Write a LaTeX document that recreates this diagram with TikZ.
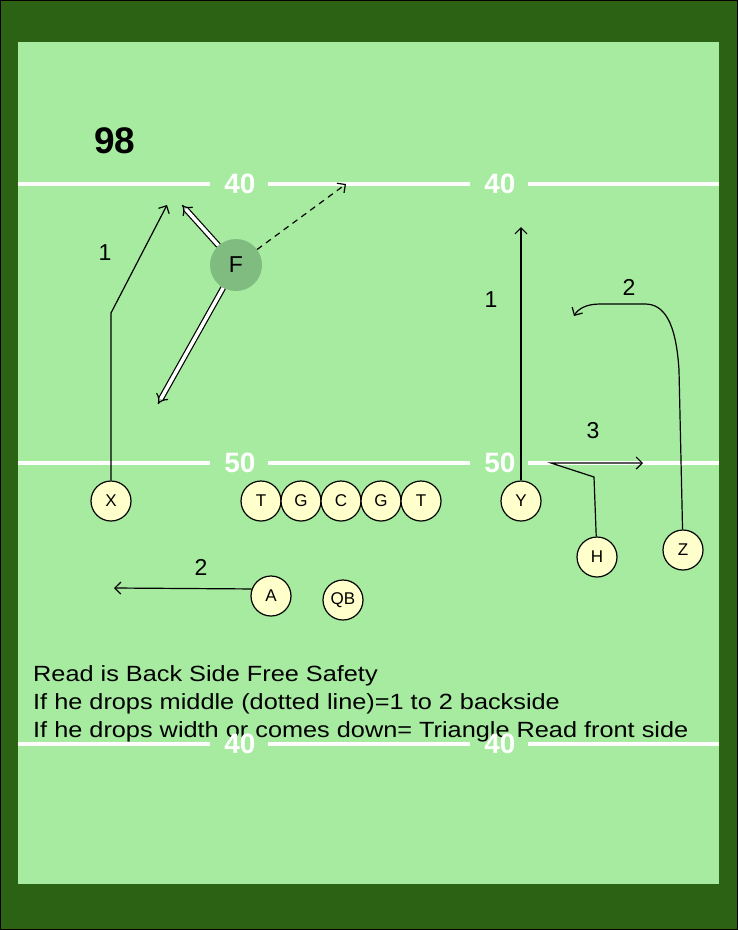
\documentclass[tikz,border=0pt]{standalone}
\usepackage{fontspec}
\setmainfont{Liberation Sans}
\newfontfamily\notefont[FakeStretch=1.15]{Liberation Sans}
\usetikzlibrary{arrows.meta}
\definecolor{turf}{HTML}{2C6214}
\definecolor{field}{HTML}{A6EBA0}
\definecolor{chalk}{HTML}{FFFFCC}
\definecolor{safety}{HTML}{80BB80}
\tikzset{ p/.style = { circle
                       , draw
                       , line width   = 1.2pt
                       , fill         = chalk
                       , inner sep    = 0pt
                       , minimum size = 40pt
                       , font         = \fontsize{17}{17}\selectfont
                       },
          route/.style = { line width = 1.2pt
                         , -{Straight Barb[length=6pt,width=12pt]}
                         },
          read/.style = { double
                        , double distance = 3.5pt
                        , line width      = 1.2pt
                        , -{Implies}
                        },
          num/.style = { font = \fontsize{23}{23}\selectfont },
          yard/.style = { text = white
                        , font = \bfseries\fontsize{28}{28}\selectfont
                        },
          yline/.style = { draw = white, line width = 3.5pt }
        }
\begin{document}
\begin{tikzpicture}[x=1pt,y=-1pt]
    \useasboundingbox (0,0) rectangle (738,930);
    \fill[turf,draw=black,line width=1pt] (0.5,0.5) rectangle (737.5,929.5);
    \fill[field] (18,42) rectangle (719,884);
    % notes
    \node[anchor=base west,align=left,inner sep=0pt,
          font=\notefont\fontsize{22}{28}\selectfont]
        (notes) at (33,737) {Read is Back Side Free Safety\\
        If he drops middle (dotted line)=1 to 2 backside\\
        If he drops width or comes down= Triangle Read front side};
    % yard lines
    \foreach \y/\n in {184/40, 463/50, 744/40} {
        \draw[yline] (18,\y) -- (210,\y) (268,\y) -- (470,\y) (528,\y) -- (719,\y);
        \node[yard] at (240,\y) {\n};
        \node[yard] at (500,\y) {\n};
    }
    \node[font=\bfseries\fontsize{37}{37}\selectfont] (play) at (115,141) {98};
    % offense
    \node[p] (x)  at (111,501) {X};
    \node[p] (t1) at (261,501) {T};
    \node[p] (g1) at (301,501) {G};
    \node[p] (c)  at (341,501) {C};
    \node[p] (g2) at (381,501) {G};
    \node[p] (t2) at (421,501) {T};
    \node[p] (y)  at (521,501) {Y};
    \node[p] (h)  at (597,557) {H};
    \node[p] (z)  at (683,550) {Z};
    \node[p] (a)  at (271,596) {A};
    \node[p] (qb) at (343,600) {QB};
    % free safety
    \node[circle,fill=safety,minimum size=52pt,inner sep=0pt,
          font=\fontsize{23}{23}\selectfont] (f) at (236,265) {F};
    \coordinate (fdeep) at (182,205);
    \coordinate (fdown) at (158,404);
    \coordinate (fmid)  at (346,184);
    \draw[read] (f) -- (fdeep);
    \draw[read] (f) -- (fdown);
    \draw[line width=1.2pt,dash pattern=on 6pt off 5pt,
          -{Straight Barb[length=6pt,width=12pt]}] (f) -- (fmid);
    % routes
    \coordinate (xr) at (167,205);
    \coordinate (yr) at (521,227);
    \coordinate (zr) at (574,316);
    \coordinate (hr) at (643,463);
    \coordinate (ar) at (114,588);
    \draw[route] (x) -- (111,313) -- (xr);
    \draw[route] (y) -- (yr);
    \draw[route] (z) -- (679,370) .. controls (676,322) and (664,304) .. (645,304)
        -- (600,304) .. controls (586,304) and (578,309) .. (zr);
    \draw[route] (h) -- (594,477) -- (551,463) -- (hr);
    \draw[route] (a.160) -- (ar);
    % route numbers
    \node[num] (n1x) at (105,253) {1};
    \node[num] (n1y) at (491,300) {1};
    \node[num] (n2z) at (629,287) {2};
    \node[num] (n3h) at (593,431) {3};
    \node[num] (n2a) at (201,567) {2};
\end{tikzpicture}
\end{document}
